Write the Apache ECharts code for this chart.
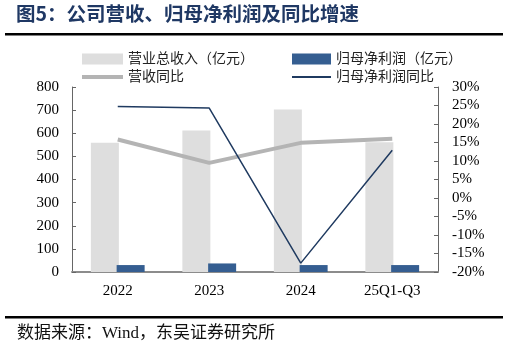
<!DOCTYPE html>
<html>
<head>
<meta charset="utf-8">
<script src="https://cdn.jsdelivr.net/npm/echarts@6/dist/echarts.min.js"></script>
<style>
  html, body { margin: 0; padding: 0; background: #fff; }
  #main { width: 509px; height: 351px; }
</style>
</head>
<body>
<div id="main"></div>
<script>
var years = ['2022', '2023', '2024', '25Q1-Q3'];
var revenue = [559, 612, 703, 561];          // 营业总收入（亿元）
var netProfit = [30, 37, 30, 30];            // 归母净利润（亿元）
var revenueYoy = [15.8, 9.5, 14.9, 16.0];    // 营收同比 %
var profitYoy = [24.7, 24.3, -17.6, 12.9];   // 归母净利润同比 %

var serif = "'Liberation Serif', 'Times New Roman', serif";
var cjk = "'Liberation Serif', 'Noto Sans CJK SC', sans-serif";

var myChart = echarts.init(document.querySelector('#main'));

var option = {
  animation: false,
  textStyle: { fontFamily: cjk },
  graphic: [
    {
      type: 'text', left: 16, top: 4,
      style: { text: '图5：公司营收、归母净利润及同比增速', fill: '#1f3864',
        font: "bold 19.5px 'Noto Sans CJK SC', sans-serif" }
    },
    { type: 'rect', shape: { x: 5, y: 33, width: 498, height: 2.5 }, style: { fill: '#000' } },
    { type: 'rect', shape: { x: 5, y: 316, width: 498, height: 2.5 }, style: { fill: '#000' } },
    {
      type: 'text', left: 17, top: 325,
      style: { text: '数据来源：Wind，东吴证券研究所', fill: '#111',
        font: "17px 'Liberation Serif', 'Noto Sans CJK SC', serif" }
    }
  ],
  legend: [
    { left: 77, top: 47, itemWidth: 41, itemHeight: 11, icon: 'rect', data: ['营业总收入（亿元）'],
      textStyle: { fontSize: 14, color: '#222', fontFamily: cjk } },
    { left: 287, top: 47, itemWidth: 39, itemHeight: 11, icon: 'rect', data: ['归母净利润（亿元）'],
      textStyle: { fontSize: 14, color: '#222', fontFamily: cjk } },
    { left: 77, top: 65, itemWidth: 41, itemHeight: 4, icon: 'rect', data: ['营收同比'],
      textStyle: { fontSize: 14, color: '#222', fontFamily: cjk } },
    { left: 287, top: 65, itemWidth: 39, itemHeight: 2, icon: 'rect', data: ['归母净利润同比'],
      textStyle: { fontSize: 14, color: '#222', fontFamily: cjk } }
  ],
  grid: { left: 72, right: 71, top: 87, bottom: 79 },
  xAxis: {
    type: 'category',
    data: years,
    axisLine: { lineStyle: { color: '#8c8c8c', width: 2 } },
    axisTick: { inside: true, length: 4, lineStyle: { color: '#666' } },
    axisLabel: { color: '#000', fontSize: 15, fontFamily: serif, margin: 12 }
  },
  yAxis: [
    {
      type: 'value', min: 0, max: 800, interval: 100,
      splitLine: { show: false },
      axisLine: { show: true, lineStyle: { color: '#666', width: 1 } },
      axisTick: { show: true, inside: true, length: 4, lineStyle: { color: '#666' } },
      axisLabel: { color: '#000', fontSize: 15, fontFamily: serif, margin: 13 }
    },
    {
      type: 'value', min: -20, max: 30, interval: 5,
      splitLine: { show: false },
      axisLine: { show: true, lineStyle: { color: '#666', width: 1 } },
      axisTick: { show: true, inside: true, length: 4, lineStyle: { color: '#666' } },
      axisLabel: { color: '#000', fontSize: 15, fontFamily: serif, margin: 14, formatter: '{value}%' }
    }
  ],
  series: [
    {
      name: '营业总收入（亿元）', type: 'bar', data: revenue,
      barWidth: 28, barGap: '-8%',
      itemStyle: { color: '#dedede' }
    },
    {
      name: '归母净利润（亿元）', type: 'bar', data: netProfit,
      barWidth: 28,
      itemStyle: { color: '#355e91' }
    },
    {
      name: '营收同比', type: 'line', yAxisIndex: 1, data: revenueYoy,
      symbol: 'none', z: 3,
      lineStyle: { color: '#b4b4b4', width: 4 },
      itemStyle: { color: '#b4b4b4' }
    },
    {
      name: '归母净利润同比', type: 'line', yAxisIndex: 1, data: profitYoy,
      symbol: 'none', z: 4,
      lineStyle: { color: '#1f3a60', width: 1.5 },
      itemStyle: { color: '#1f3a60' }
    }
  ]
};
myChart.setOption(option);
window.addEventListener('resize', function () {
  myChart.resize();
});
</script>
</body>
</html>
